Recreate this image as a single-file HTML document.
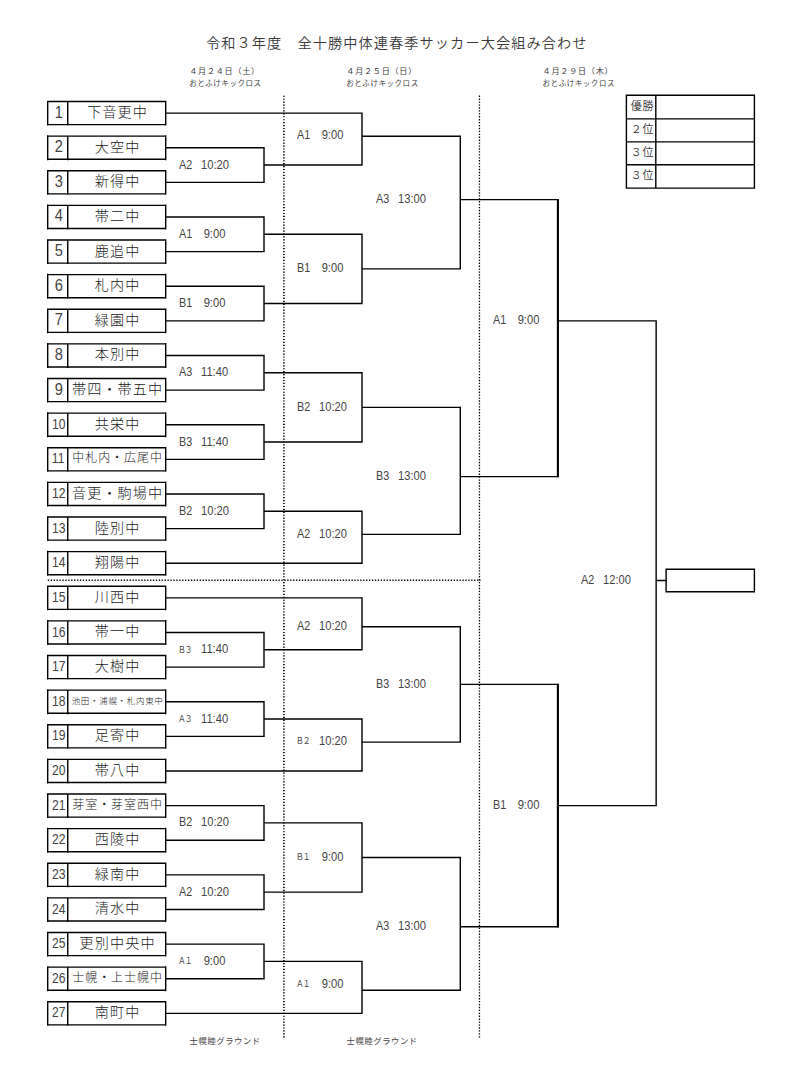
<!DOCTYPE html>
<html lang="ja">
<head>
<meta charset="utf-8">
<title>令和３年度　全十勝中体連春季サッカー大会組み合わせ</title>
<style>
html,body{margin:0;padding:0;background:#fff;}
body{width:800px;height:1082px;position:relative;overflow:hidden;
  font-family:"Liberation Sans","Noto Sans CJK JP",sans-serif;color:#222;}
.ln{position:absolute;left:0;top:0;}
.t{position:absolute;white-space:pre;line-height:1;}
.title{left:206px;top:35.7px;font-size:14.2px;letter-spacing:1.07px;font-weight:350;color:#3a3a3a;}
.hd{text-align:center;width:120px;font-weight:400;color:#3c3c3c;}
.hd .d{font-size:8.1px;letter-spacing:.75px;display:block;line-height:11.4px;}
.hd .p{font-size:7.5px;letter-spacing:.55px;position:relative;left:.8px;display:block;line-height:11.4px;}
.ft{text-align:center;width:120px;font-size:8.3px;letter-spacing:.6px;color:#444;}
.no{left:48px;width:21px;text-align:center;font-size:17px;height:23px;line-height:23px;color:#444;}
.no b{display:inline-block;font-weight:normal;transform:scaleX(.86);}
.no.s{font-size:13.8px;}
.no.s b{transform:scaleX(.88);position:relative;left:.1px}
.nm{left:68.6px;width:98px;text-align:center;font-size:14.1px;letter-spacing:1.1px;height:23px;line-height:23px;font-weight:300;color:#222;}
.nm.s7{font-size:12px;letter-spacing:.95px;}
.nm.s10{font-size:8.5px;letter-spacing:.68px;}
.lb{font-size:12px;height:14px;line-height:14px;width:52px;color:#444;}
.lb .c{position:absolute;left:0;top:0;transform:scaleX(.9);transform-origin:0 50%;}
.lb .c.z{font-size:8.6px;letter-spacing:-1.2px;top:0.2px;left:-1.1px;transform:scaleX(.9);}
.lb .h{position:absolute;left:21px;top:0;width:29px;text-align:center;transform:scaleX(.93);}
.rk{left:626px;width:28px;text-align:right;font-size:11px;letter-spacing:.6px;height:23px;line-height:23px;font-weight:350;color:#333;}
</style>
</head>
<body>
<svg class="ln" width="800" height="1082" viewBox="0 0 800 1082">
<g fill="none" stroke="#000" stroke-width="1.4">
<path d="M47.00 101.55H166.40 M47.00 124.65H166.40 M47.70 100.65V125.55 M67.75 100.95V125.55 M165.70 100.65V125.55 M47.00 136.17H166.40 M47.00 159.27H166.40 M47.70 135.27V160.17 M67.75 135.57V160.17 M165.70 135.27V160.17 M47.00 170.80H166.40 M47.00 193.90H166.40 M47.70 169.90V194.80 M67.75 170.20V194.80 M165.70 169.90V194.80 M47.00 205.42H166.40 M47.00 228.52H166.40 M47.70 204.52V229.42 M67.75 204.82V229.42 M165.70 204.52V229.42 M47.00 240.05H166.40 M47.00 263.15H166.40 M47.70 239.15V264.05 M67.75 239.45V264.05 M165.70 239.15V264.05 M47.00 274.67H166.40 M47.00 297.77H166.40 M47.70 273.77V298.67 M67.75 274.07V298.67 M165.70 273.77V298.67 M47.00 309.30H166.40 M47.00 332.40H166.40 M47.70 308.40V333.30 M67.75 308.70V333.30 M165.70 308.40V333.30 M47.00 343.92H166.40 M47.00 367.02H166.40 M47.70 343.02V367.92 M67.75 343.32V367.92 M165.70 343.02V367.92 M47.00 378.55H166.40 M47.00 401.65H166.40 M47.70 377.65V402.55 M67.75 377.95V402.55 M165.70 377.65V402.55 M47.00 413.17H166.40 M47.00 436.27H166.40 M47.70 412.27V437.17 M67.75 412.57V437.17 M165.70 412.27V437.17 M47.00 447.80H166.40 M47.00 470.90H166.40 M47.70 446.90V471.80 M67.75 447.20V471.80 M165.70 446.90V471.80 M47.00 482.42H166.40 M47.00 505.52H166.40 M47.70 481.52V506.42 M67.75 481.82V506.42 M165.70 481.52V506.42 M47.00 517.05H166.40 M47.00 540.15H166.40 M47.70 516.15V541.05 M67.75 516.45V541.05 M165.70 516.15V541.05 M47.00 551.67H166.40 M47.00 574.77H166.40 M47.70 550.77V575.67 M67.75 551.07V575.67 M165.70 550.77V575.67 M47.00 586.30H166.40 M47.00 609.40H166.40 M47.70 585.40V610.30 M67.75 585.70V610.30 M165.70 585.40V610.30 M47.00 620.92H166.40 M47.00 644.02H166.40 M47.70 620.02V644.92 M67.75 620.32V644.92 M165.70 620.02V644.92 M47.00 655.55H166.40 M47.00 678.65H166.40 M47.70 654.65V679.55 M67.75 654.95V679.55 M165.70 654.65V679.55 M47.00 690.17H166.40 M47.00 713.27H166.40 M47.70 689.27V714.17 M67.75 689.57V714.17 M165.70 689.27V714.17 M47.00 724.80H166.40 M47.00 747.90H166.40 M47.70 723.90V748.80 M67.75 724.20V748.80 M165.70 723.90V748.80 M47.00 759.42H166.40 M47.00 782.52H166.40 M47.70 758.52V783.42 M67.75 758.82V783.42 M165.70 758.52V783.42 M47.00 794.05H166.40 M47.00 817.15H166.40 M47.70 793.15V818.05 M67.75 793.45V818.05 M165.70 793.15V818.05 M47.00 828.67H166.40 M47.00 851.77H166.40 M47.70 827.77V852.67 M67.75 828.07V852.67 M165.70 827.77V852.67 M47.00 863.30H166.40 M47.00 886.40H166.40 M47.70 862.40V887.30 M67.75 862.70V887.30 M165.70 862.40V887.30 M47.00 897.92H166.40 M47.00 921.02H166.40 M47.70 897.02V921.92 M67.75 897.32V921.92 M165.70 897.02V921.92 M47.00 932.55H166.40 M47.00 955.65H166.40 M47.70 931.65V956.55 M67.75 931.95V956.55 M165.70 931.65V956.55 M47.00 967.17H166.40 M47.00 990.27H166.40 M47.70 966.27V991.17 M67.75 966.57V991.17 M165.70 966.27V991.17 M47.00 1001.79H166.40 M47.00 1024.89H166.40 M47.70 1000.89V1025.79 M67.75 1001.19V1025.79 M165.70 1000.89V1025.79 M666.1 569.3H754.4V591.8H666.1Z M626.4 95.3H754.4V188.1H626.4Z M655.8 95.3V188.1 M626.4 118.9H754.4 M626.4 141.9H754.4 M626.4 164.8H754.4"/>
<path d="M165.00 147.72H264.70 M165.00 182.35H264.70 M264.00 147.02V183.05 M165.00 216.97H264.70 M165.00 251.60H264.70 M264.00 216.27V252.30 M165.00 286.22H264.70 M165.00 320.85H264.70 M264.00 285.52V321.55 M165.00 355.47H264.70 M165.00 390.10H264.70 M264.00 354.77V390.80 M165.00 424.72H264.70 M165.00 459.35H264.70 M264.00 424.02V460.05 M165.00 493.97H264.70 M165.00 528.60H264.70 M264.00 493.27V529.30 M165.00 632.47H264.70 M165.00 667.10H264.70 M264.00 631.77V667.80 M165.00 701.72H264.70 M165.00 736.35H264.70 M264.00 701.02V737.05 M165.00 805.60H264.70 M165.00 840.22H264.70 M264.00 804.90V840.92 M165.00 874.85H264.70 M165.00 909.47H264.70 M264.00 874.15V910.17 M165.00 944.10H264.70 M165.00 978.72H264.70 M264.00 943.40V979.42 M165.00 113.10H362.70 M263.30 165.04H362.70 M362.00 112.40V165.74 M263.30 234.29H362.70 M263.30 303.54H362.70 M362.00 233.59V304.24 M263.30 372.79H362.70 M263.30 442.04H362.70 M362.00 372.09V442.74 M263.30 511.29H362.70 M165.00 563.22H362.70 M362.00 510.59V563.92 M165.00 597.85H362.70 M263.30 649.78H362.70 M362.00 597.15V650.48 M263.30 719.03H362.70 M165.00 770.97H362.70 M362.00 718.33V771.67 M263.30 822.91H362.70 M263.30 892.16H362.70 M362.00 822.21V892.86 M263.30 961.41H362.70 M165.00 1013.34H362.70 M362.00 960.71V1014.04 M361.30 136.18H461.00 M361.30 268.91H461.00 M460.30 135.48V269.61 M361.30 407.41H461.00 M361.30 534.37H461.00 M460.30 406.71V535.07 M361.30 626.70H461.00 M361.30 742.12H461.00 M460.30 626.00V742.82 M361.30 857.53H461.00 M361.30 990.26H461.00 M460.30 856.83V990.96 M459.60 199.66H558.60 M459.60 476.66H558.60 M459.60 684.41H558.60 M459.60 926.78H558.60 M557.20 320.85H656.85 M557.20 805.60H656.85 M656.15 320.15V806.30 M655.45 580.53H666.80"/>
<path stroke-width="2.1" d="M557.90 198.96V477.36 M557.90 683.71V927.48"/>
<path stroke-width="1.65" stroke-dasharray="1.15 1.78" d="M283.9 95.7V1037.5"/>
<path stroke-width="1.35" stroke-dasharray="1.35 1.58" d="M479.45 95.6V1037.5"/>
<path stroke-width="1.5" stroke-dasharray="1.3 1.62" d="M47.8 580.25H480.4"/>
</g></svg>
<div class="t title">令和３年度　全十勝中体連春季サッカー大会組み合わせ</div>
<div class="t hd" style="left:164.6px;top:66.4px"><span class="d">４月２４日（土）</span><span class="p">おとふけキックロス</span></div>
<div class="t hd" style="left:321.7px;top:66.4px"><span class="d">４月２５日（日）</span><span class="p">おとふけキックロス</span></div>
<div class="t hd" style="left:518.0px;top:66.4px"><span class="d">４月２９日（木）</span><span class="p">おとふけキックロス</span></div>
<div class="t ft" style="left:165.2px;top:1037.2px">士幌睦グラウンド</div>
<div class="t ft" style="left:322.2px;top:1037.2px">士幌睦グラウンド</div>
<div class="t no" style="top:100.55px"><b>1</b></div>
<div class="t nm" style="top:101.05px">下音更中</div>
<div class="t no" style="top:135.17px"><b>2</b></div>
<div class="t nm" style="top:135.67px">大空中</div>
<div class="t no" style="top:169.80px"><b>3</b></div>
<div class="t nm" style="top:170.30px">新得中</div>
<div class="t no" style="top:204.42px"><b>4</b></div>
<div class="t nm" style="top:204.92px">帯二中</div>
<div class="t no" style="top:239.05px"><b>5</b></div>
<div class="t nm" style="top:239.55px">鹿追中</div>
<div class="t no" style="top:273.67px"><b>6</b></div>
<div class="t nm" style="top:274.17px">札内中</div>
<div class="t no" style="top:308.30px"><b>7</b></div>
<div class="t nm" style="top:308.80px">緑園中</div>
<div class="t no" style="top:342.92px"><b>8</b></div>
<div class="t nm" style="top:343.42px">本別中</div>
<div class="t no" style="top:377.55px"><b>9</b></div>
<div class="t nm" style="top:378.05px">帯四・帯五中</div>
<div class="t no s" style="top:412.82px"><b>10</b></div>
<div class="t nm" style="top:412.67px">共栄中</div>
<div class="t no s" style="top:447.45px"><b>11</b></div>
<div class="t nm s7" style="top:447.30px">中札内・広尾中</div>
<div class="t no s" style="top:482.07px"><b>12</b></div>
<div class="t nm" style="top:481.92px">音更・駒場中</div>
<div class="t no s" style="top:516.70px"><b>13</b></div>
<div class="t nm" style="top:516.55px">陸別中</div>
<div class="t no s" style="top:551.32px"><b>14</b></div>
<div class="t nm" style="top:551.17px">翔陽中</div>
<div class="t no s" style="top:585.95px"><b>15</b></div>
<div class="t nm" style="top:585.80px">川西中</div>
<div class="t no s" style="top:620.57px"><b>16</b></div>
<div class="t nm" style="top:620.42px">帯一中</div>
<div class="t no s" style="top:655.20px"><b>17</b></div>
<div class="t nm" style="top:655.05px">大樹中</div>
<div class="t no s" style="top:689.82px"><b>18</b></div>
<div class="t nm s10" style="top:689.67px">池田・浦幌・札内東中</div>
<div class="t no s" style="top:724.45px"><b>19</b></div>
<div class="t nm" style="top:724.30px">足寄中</div>
<div class="t no s" style="top:759.07px"><b>20</b></div>
<div class="t nm" style="top:758.92px">帯八中</div>
<div class="t no s" style="top:793.70px"><b>21</b></div>
<div class="t nm s7" style="top:793.55px">芽室・芽室西中</div>
<div class="t no s" style="top:828.32px"><b>22</b></div>
<div class="t nm" style="top:828.17px">西陵中</div>
<div class="t no s" style="top:862.95px"><b>23</b></div>
<div class="t nm" style="top:862.80px">緑南中</div>
<div class="t no s" style="top:897.57px"><b>24</b></div>
<div class="t nm" style="top:897.42px">清水中</div>
<div class="t no s" style="top:932.20px"><b>25</b></div>
<div class="t nm" style="top:932.05px">更別中央中</div>
<div class="t no s" style="top:966.82px"><b>26</b></div>
<div class="t nm s7" style="top:966.67px">士幌・上士幌中</div>
<div class="t no s" style="top:1001.44px"><b>27</b></div>
<div class="t nm" style="top:1001.29px">南町中</div>
<div class="t lb" style="left:179.40px;top:157.74px"><span class="c">A2</span><span class="h">10:20</span></div>
<div class="t lb" style="left:179.40px;top:226.99px"><span class="c">A1</span><span class="h">9:00</span></div>
<div class="t lb" style="left:179.40px;top:296.24px"><span class="c">B1</span><span class="h">9:00</span></div>
<div class="t lb" style="left:179.40px;top:365.49px"><span class="c">A3</span><span class="h">11:40</span></div>
<div class="t lb" style="left:179.40px;top:434.74px"><span class="c">B3</span><span class="h">11:40</span></div>
<div class="t lb" style="left:179.40px;top:503.99px"><span class="c">B2</span><span class="h">10:20</span></div>
<div class="t lb" style="left:179.40px;top:642.48px"><span class="c z">Ｂ３</span><span class="h">11:40</span></div>
<div class="t lb" style="left:179.40px;top:711.73px"><span class="c z">Ａ３</span><span class="h">11:40</span></div>
<div class="t lb" style="left:179.40px;top:814.91px"><span class="c">B2</span><span class="h">10:20</span></div>
<div class="t lb" style="left:179.40px;top:884.86px"><span class="c">A2</span><span class="h">10:20</span></div>
<div class="t lb" style="left:179.40px;top:954.11px"><span class="c z">Ａ１</span><span class="h">9:00</span></div>
<div class="t lb" style="left:297.40px;top:128.28px"><span class="c">A1</span><span class="h">9:00</span></div>
<div class="t lb" style="left:297.40px;top:261.01px"><span class="c">B1</span><span class="h">9:00</span></div>
<div class="t lb" style="left:297.40px;top:399.51px"><span class="c">B2</span><span class="h">10:20</span></div>
<div class="t lb" style="left:297.40px;top:527.47px"><span class="c">A2</span><span class="h">10:20</span></div>
<div class="t lb" style="left:297.40px;top:618.80px"><span class="c">A2</span><span class="h">10:20</span></div>
<div class="t lb" style="left:297.40px;top:734.22px"><span class="c z">Ｂ２</span><span class="h">10:20</span></div>
<div class="t lb" style="left:297.40px;top:849.63px"><span class="c z">Ｂ１</span><span class="h">9:00</span></div>
<div class="t lb" style="left:297.40px;top:976.96px"><span class="c z">Ａ１</span><span class="h">9:00</span></div>
<div class="t lb" style="left:375.65px;top:192.06px"><span class="c">A3</span><span class="h">13:00</span></div>
<div class="t lb" style="left:375.65px;top:469.06px"><span class="c">B3</span><span class="h">13:00</span></div>
<div class="t lb" style="left:375.65px;top:676.81px"><span class="c">B3</span><span class="h">13:00</span></div>
<div class="t lb" style="left:375.65px;top:919.18px"><span class="c">A3</span><span class="h">13:00</span></div>
<div class="t lb" style="left:493.15px;top:312.75px"><span class="c">A1</span><span class="h">9:00</span></div>
<div class="t lb" style="left:493.15px;top:797.50px"><span class="c">B1</span><span class="h">9:00</span></div>
<div class="t lb" style="left:581.20px;top:572.63px"><span class="c">A2</span><span class="h">12:00</span></div>
<div class="t rk" style="top:95.00px">優勝</div>
<div class="t rk" style="top:118.30px">２位</div>
<div class="t rk" style="top:141.25px">３位</div>
<div class="t rk" style="top:164.35px">３位</div>
</body>
</html>
